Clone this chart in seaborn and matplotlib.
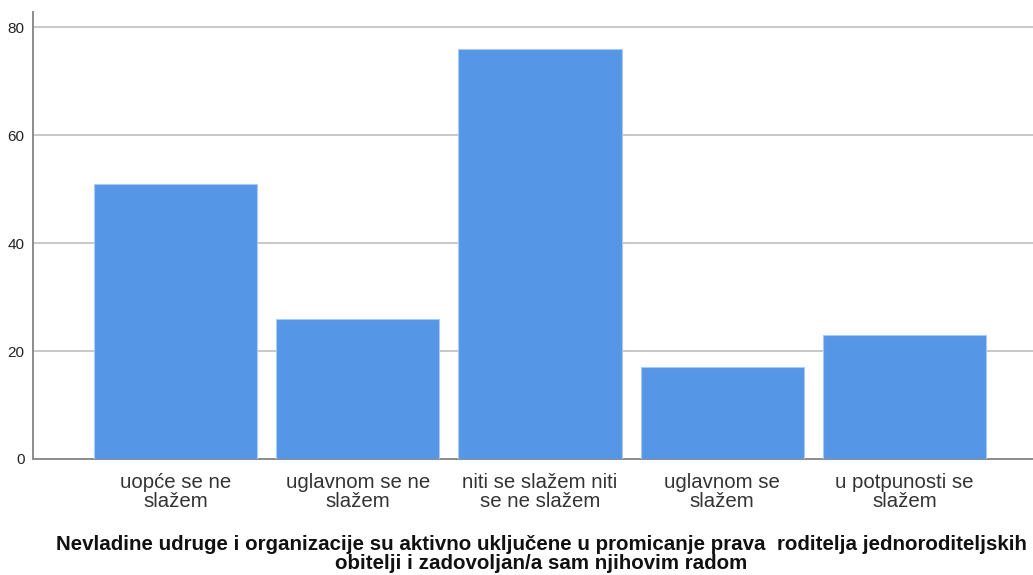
import seaborn as sns
import matplotlib.pyplot as plt
import pandas as pd

categories = ["uopće se ne\nslažem", "uglavnom se ne\nslažem", "niti se slažem niti\nse ne slažem",
              "uglavnom se\nslažem", "u potpunosti se\nslažem"]
counts = [51, 26, 76, 17, 23]
y_ticks = [0, 20, 40, 60, 80]
title = ("Nevladine udruge i organizacije su aktivno uključene u promicanje prava  roditelja jednoroditeljskih\n"
         "obitelji i zadovoljan/a sam njihovim radom")

df = pd.DataFrame({"kategorija": categories, "broj": counts})

sns.set_style("white")
plt.rcParams['font.family'] = ['Liberation Sans', 'DejaVu Sans']

fig = plt.figure(figsize=(10.33, 5.75), dpi=100)
ax = fig.add_axes([33 / 1033, 1 - 459 / 575, 1 - 33 / 1033, (459 - 12) / 575])

sns.barplot(data=df, x="kategorija", y="broj", color="#5596e6", saturation=1,
            width=0.895, edgecolor="#a9cbf3", linewidth=0.8, ax=ax, zorder=3)

ax.set_ylim(0, 82.8)
ax.set_xlim(-0.782, 4.705)
ax.set_yticks(y_ticks)
ax.yaxis.grid(True, color="#c8c8c8", linewidth=1.4, zorder=0)
ax.set_axisbelow(True)
ax.tick_params(axis="y", length=0, labelsize=11, pad=6, colors="#222222")
ax.tick_params(axis="x", length=0, labelsize=14.7, pad=10, colors="#333333")
for lbl in ax.get_xticklabels():
    lbl.set_linespacing(1.02)

for s in ["top", "right"]:
    ax.spines[s].set_visible(False)
ax.spines["left"].set_color("#8c8c8c")
ax.spines["bottom"].set_color("#8c8c8c")
ax.spines["left"].set_linewidth(1.4)
ax.spines["bottom"].set_linewidth(1.4)

ax.set_xlabel("")
ax.set_ylabel("")

fig.text(541 / 1033, 1 - 554 / 575, title, ha="center", va="center", fontsize=14.8,
         fontweight="bold", linespacing=1.02, color="#111111")

fig.savefig("out.png", dpi=100)
